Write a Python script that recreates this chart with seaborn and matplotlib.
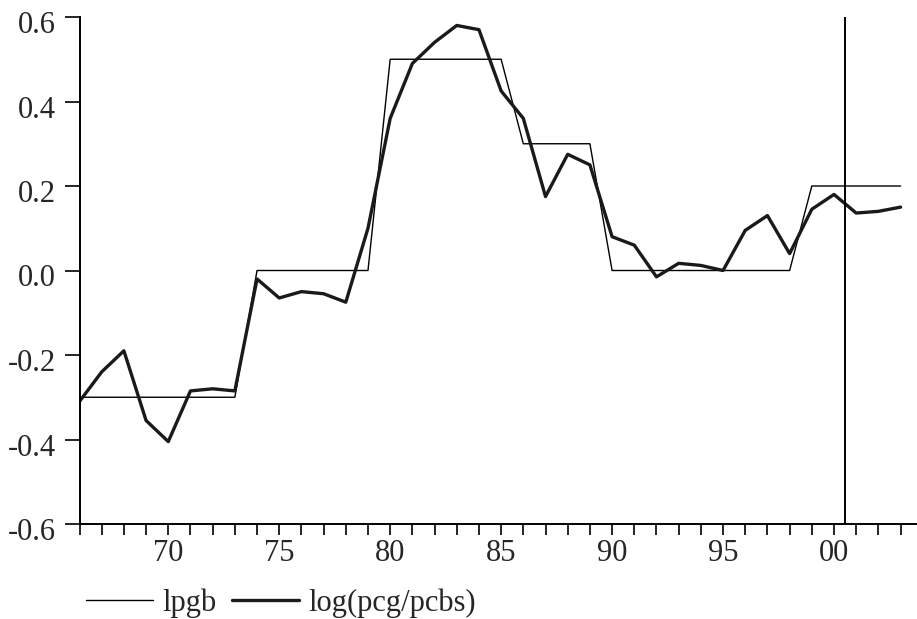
import numpy as np
import pandas as pd
import matplotlib
matplotlib.use("Agg")
import matplotlib.pyplot as plt
import matplotlib.transforms as mtrans
import seaborn as sns

# ── Data ───────────────────────────────────────────
years = list(range(1966, 2004))

lpgb = [-0.3] * 8 + [0.0] * 6 + [0.5] * 6 + [0.3] * 4 + [0.0] * 9 + [0.2] * 5

log_pcg_pcbs = [
    -0.31, -0.24, -0.19, -0.355, -0.405, -0.285, -0.28, -0.285,   # 66-73
    -0.02, -0.065, -0.05, -0.055, -0.075, 0.10,                   # 74-79
    0.36, 0.49, 0.54, 0.58, 0.57, 0.425,                          # 80-85
    0.36, 0.175, 0.275, 0.25,                                     # 86-89
    0.08, 0.06, -0.015, 0.017, 0.012, 0.0, 0.095, 0.13, 0.04,     # 90-98
    0.145, 0.18, 0.136, 0.14, 0.15,                               # 99-03
]

major_years = [1970, 1975, 1980, 1985, 1990, 1995, 2000]
major_labels = ["70", "75", "80", "85", "90", "95", "00"]
y_ticks = [-0.6, -0.4, -0.2, 0.0, 0.2, 0.4, 0.6]
y_labels = ["-0.6", "-0.4", "-0.2", "0.0", "0.2", "0.4", "0.6"]
split_year = 2000.5

df = pd.DataFrame({"year": years, "lpgb": lpgb, "log(pcg/pcbs)": log_pcg_pcbs})

# ── Style ──────────────────────────────────────────
sns.set_style("ticks")
plt.rcParams["font.family"] = ["Liberation Serif", "DejaVu Serif"]

fig = plt.figure(figsize=(9.17, 6.19), dpi=100)
ax = fig.add_axes([79.5 / 917, 95 / 619, (917 - 79.5) / 917, 507 / 619])

sns.lineplot(data=df, x="year", y="lpgb", ax=ax, color="black",
             linewidth=1.0, label="lpgb")
sns.lineplot(data=df, x="year", y="log(pcg/pcbs)", ax=ax, color="#1a1a1a",
             linewidth=2.4, label="log(pcg/pcbs)")

ax.axvline(split_year, color="black", linewidth=1.4)

ax.set_xlim(1966, 2003.74)
ax.set_ylim(-0.6, 0.6)
ax.set_xticks(major_years)
ax.set_xticklabels(major_labels)
ax.set_xticks(years, minor=True)
ax.set_yticks(y_ticks)
ax.set_yticklabels(y_labels)
ax.set_xlabel("")
ax.set_ylabel("")

ax.tick_params(axis="both", which="both", direction="out", width=1.2,
               labelsize=22, color="black")
ax.tick_params(axis="x", which="both", length=8, pad=3)
ax.tick_params(axis="y", which="both", length=11, pad=6)

for side in ["top", "right"]:
    ax.spines[side].set_visible(False)
for side in ["left", "bottom"]:
    ax.spines[side].set_linewidth(1.4)
    ax.spines[side].set_color("black")

# nudge y labels a bit below their ticks, as in the reference
offset = mtrans.ScaledTranslation(0, -5 / 100, fig.dpi_scale_trans)
for lbl in ax.get_yticklabels():
    lbl.set_transform(lbl.get_transform() + offset)

ax.get_legend().remove()
handles, labels = ax.get_legend_handles_labels()
fig.legend(handles, labels, loc="center left", bbox_to_anchor=(74 / 917, 16 / 619),
           ncol=2, frameon=False, fontsize=22, handlelength=2.2,
           handletextpad=0.3, columnspacing=0.5, borderaxespad=0)

fig.savefig("out.png", dpi=100)
